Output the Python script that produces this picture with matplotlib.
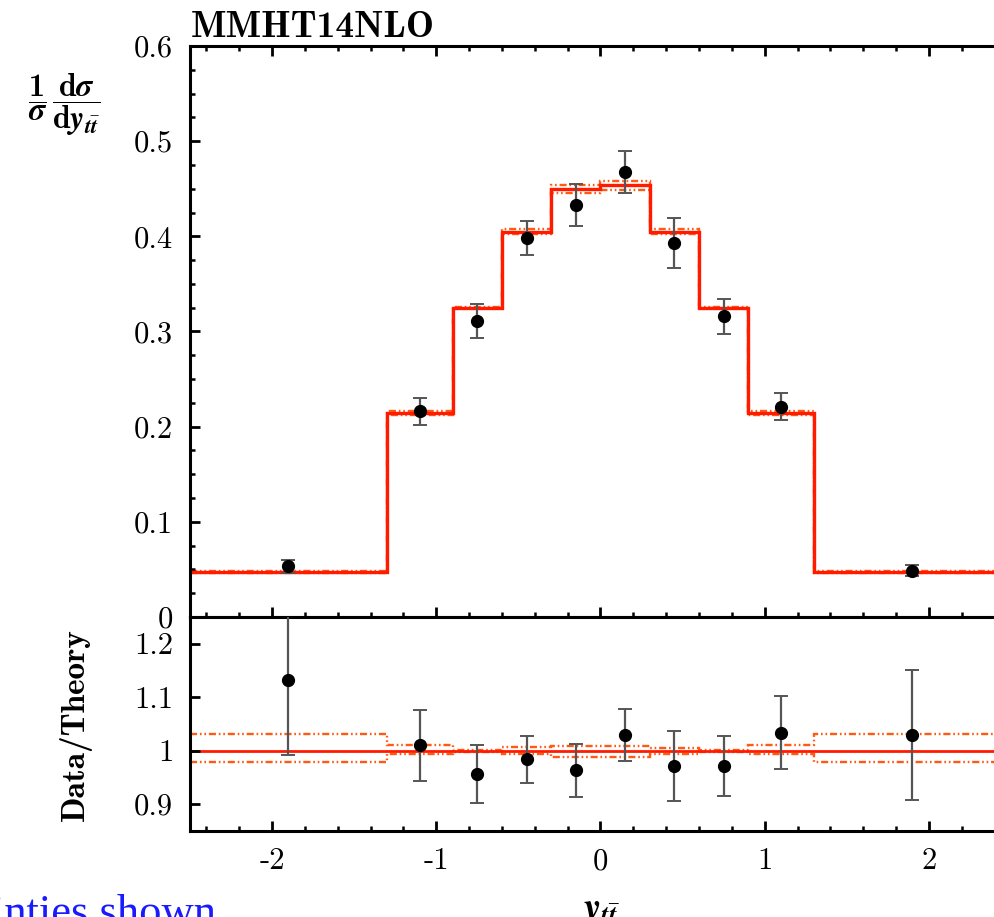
import numpy as np
import matplotlib
matplotlib.use('Agg')
import matplotlib.pyplot as plt
from matplotlib.ticker import MultipleLocator, FuncFormatter

# bins in y_ttbar
bin_edges = [-2.5, -1.3, -0.9, -0.6, -0.3, 0.0, 0.3, 0.6, 0.9, 1.3, 2.5]
bin_centres = [-1.9, -1.1, -0.75, -0.45, -0.15, 0.15, 0.45, 0.75, 1.1, 1.9]

# MMHT14 NLO prediction (normalised) and its PDF band as ratio to central
theory = [0.047, 0.214, 0.325, 0.405, 0.450, 0.454, 0.405, 0.325, 0.214, 0.047]
band_up = [1.031, 1.010, 1.002, 1.007, 1.009, 1.009, 1.006, 1.002, 1.010, 1.031]
band_down = [0.978, 0.993, 0.998, 0.993, 0.989, 0.989, 0.993, 0.998, 0.993, 0.978]

# measured normalised cross section with total uncertainty
data = [0.0532, 0.2161, 0.3110, 0.3985, 0.4334, 0.4676, 0.3933, 0.3159, 0.2211, 0.0484]
data_err = [0.0066, 0.0143, 0.0176, 0.0178, 0.0221, 0.0222, 0.0263, 0.0182, 0.0146, 0.0057]

plt.rcParams['axes.unicode_minus'] = False
plt.rcParams['mathtext.fontset'] = 'custom'
plt.rcParams['mathtext.rm'] = 'cmb10'
plt.rcParams['mathtext.bf'] = 'cmb10'
plt.rcParams['mathtext.it'] = 'STIXGeneral:italic:bold'

RED = '#ff1a00'
ORANGE = '#ff5a14'
BAND_LS = (0, (3, 1.2, 0.7, 1.2, 0.7, 1.2))
SPINE_W = 2.2


def style_axis(ax):
    for s in ax.spines.values():
        s.set_linewidth(SPINE_W)
    ax.tick_params(which='major', direction='in', length=7, width=2.0,
                   labelsize=22, pad=12)
    ax.tick_params(which='minor', direction='in', length=3.5, width=1.8)
    for lab in ax.get_xticklabels() + ax.get_yticklabels():
        lab.set_family('cmr10')
    fmt = FuncFormatter(lambda v, p: f'{v:g}')
    ax.xaxis.set_major_formatter(fmt)
    ax.yaxis.set_major_formatter(fmt)


theory = np.array(theory)
data = np.array(data)
data_err = np.array(data_err)
band_up = np.array(band_up)
band_down = np.array(band_down)

fig = plt.figure(figsize=(9.94, 9.17), dpi=100)
ax = fig.add_axes([0.1911, 0.3272, 0.826, 0.6226])
rax = fig.add_axes([0.1911, 0.0938, 0.826, 0.2334])

# main panel
ax.stairs(theory * band_up, bin_edges, baseline=None, color=ORANGE, lw=1.7, ls=BAND_LS)
ax.stairs(theory * band_down, bin_edges, baseline=None, color=ORANGE, lw=1.7, ls=BAND_LS)
ax.stairs(theory, bin_edges, baseline=None, color=RED, lw=2.4)
ax.errorbar(bin_centres, data, yerr=data_err, fmt='o', color='black', ms=8.5,
            ecolor='#555555', elinewidth=1.6, capsize=5, capthick=1.4, zorder=5)
ax.set_xlim(-2.5, 2.5)
ax.set_ylim(0, 0.6)
ax.xaxis.set_minor_locator(MultipleLocator(0.2))
ax.xaxis.set_major_locator(MultipleLocator(1))
ax.yaxis.set_major_locator(MultipleLocator(0.1))
ax.yaxis.set_minor_locator(MultipleLocator(0.025))
style_axis(ax)
ax.tick_params(which='both', top=True, right=True, labelbottom=False)

# ratio panel
rax.stairs(band_up, bin_edges, baseline=None, color=ORANGE, lw=1.7, ls=BAND_LS)
rax.stairs(band_down, bin_edges, baseline=None, color=ORANGE, lw=1.7, ls=BAND_LS)
rax.stairs(np.ones_like(theory), bin_edges, baseline=None, color=RED, lw=2.0)
rax.errorbar(bin_centres, data / theory, yerr=data_err / theory, fmt='o',
             color='black', ms=8.5, ecolor='#555555', elinewidth=1.6, capsize=5,
             capthick=1.4, zorder=5)
rax.set_xlim(-2.5, 2.5)
rax.set_ylim(0.85, 1.25)
rax.xaxis.set_major_locator(MultipleLocator(1))
rax.xaxis.set_minor_locator(MultipleLocator(0.2))
rax.yaxis.set_major_locator(MultipleLocator(0.1))
style_axis(rax)
rax.tick_params(which='both', top=False, right=True)

# labels
fig.text(0.192, 0.9597, 'MMHT14NLO', family='cmb10', fontsize=27,
         ha='left', va='baseline')
fig.text(0.0644, 0.8855,
         r'$\dfrac{1}{\sigma}\,\dfrac{\mathrm{d}\sigma}{\mathrm{d}y_{t\bar{t}}}$',
         fontsize=23, ha='center', va='center')
fig.text(0.0755, 0.2094, 'Data/Theory', family='cmb10', fontsize=24,
         rotation=90, ha='center', va='center')
fig.text(0.604, 0.028, r'$y_{t\bar{t}}$', fontsize=28, ha='center', va='top')
fig.text(0.217, -0.0087, 'uncertainties shown', family='Liberation Serif',
         fontsize=32, color='#1a1aff', ha='right', va='baseline')

fig.savefig('out.png', dpi=100)
